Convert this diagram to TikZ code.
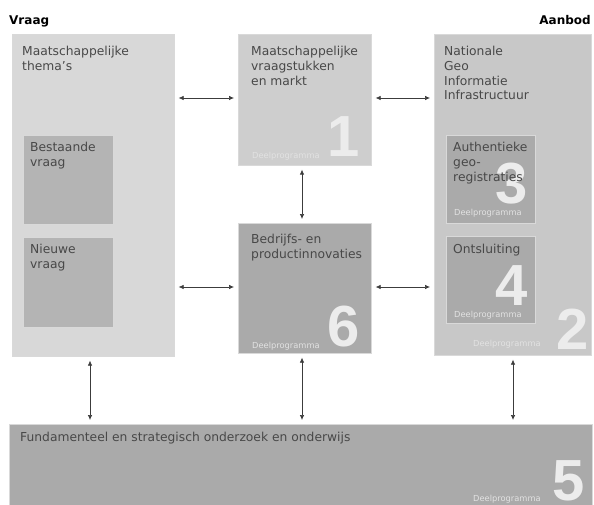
\documentclass[tikz,border=0pt]{standalone}
\usepackage{fontspec}
\setmainfont{DejaVu Sans}
\newfontfamily\numfont{Liberation Sans}
\usetikzlibrary{arrows.meta}
\definecolor{leftbg}{RGB}{216,216,216}
\definecolor{innerL}{RGB}{180,180,180}
\definecolor{boxone}{RGB}{206,206,206}
\definecolor{boxsix}{RGB}{170,170,170}
\definecolor{rightbg}{RGB}{200,200,200}
\definecolor{innerR}{RGB}{170,170,170}
\definecolor{bottombg}{RGB}{170,170,170}
\definecolor{txt}{RGB}{72,72,72}
\definecolor{numc}{RGB}{236,236,236}
\definecolor{smallc}{RGB}{226,226,226}
\definecolor{arrc}{RGB}{60,60,60}
\tikzset{
  panel/.style={draw=white!85!black, line width=0.6pt, anchor=north west, inner sep=0pt},
  lbl/.style={anchor=north west, inner sep=0pt, align=left, text=txt, font=\fontsize{12.3}{14.8}\selectfont},
  bignum/.style={anchor=base east, inner sep=0pt, text=numc, font=\numfont\fontsize{58}{58}\selectfont\bfseries},
  dp/.style={anchor=base west, inner sep=0pt, text=smallc, font=\fontsize{8.3}{9}\selectfont},
  head/.style={inner sep=0pt, font=\fontsize{12}{13}\selectfont\bfseries, text=black},
  link/.style={draw=arrc, line width=0.7pt, {Latex[length=5pt,width=4.5pt]}-{Latex[length=5pt,width=4.5pt]}, shorten <=4pt, shorten >=4pt}
}
\begin{document}
\begin{tikzpicture}[x=1pt,y=-1pt]
\useasboundingbox (0,0) rectangle (594,505);
\fill[white] (0,0) rectangle (594,505);
% headers
\node[head, anchor=base west] (vraag) at (9,25) {Vraag};
\node[head, anchor=base east] (aanbod) at (591,25) {Aanbod};
% big panels
\node[panel, fill=leftbg, minimum width=162pt, minimum height=322pt] (L) at (12,34) {};
\node[panel, fill=boxone, minimum width=133pt, minimum height=131pt] (B1) at (238,34) {};
\node[panel, fill=boxsix, minimum width=133pt, minimum height=130pt] (B6) at (238,223) {};
\node[panel, fill=rightbg, minimum width=157pt, minimum height=321pt] (R) at (434,34) {};
\node[panel, fill=bottombg, minimum width=583pt, minimum height=90pt] (B5) at (9,424) {};
% inner panels
\node[panel, fill=innerL, minimum width=90pt, minimum height=89pt] (BV) at (23,135) {};
\node[panel, fill=innerL, minimum width=90pt, minimum height=90pt] (NV) at (23,237) {};
\node[panel, fill=innerR, minimum width=89pt, minimum height=88pt] (B3) at (446,135) {};
\node[panel, fill=innerR, minimum width=89pt, minimum height=87pt] (B4) at (446,236) {};
% big numbers
\node[bignum] (n1) at (360,157) {1};
\node[bignum] (n6) at (360,346) {6};
\node[bignum] (n2) at (589,349) {2};
\node[bignum] (n3) at (528,204) {3};
\node[bignum] (n4) at (528,305) {4};
\node[bignum] (n5) at (585,500) {5};
% small labels
\node[dp] (d1) at (252,159) {Deelprogramma};
\node[dp] (d6) at (252,348) {Deelprogramma};
\node[dp] (d2) at (473,346) {Deelprogramma};
\node[dp] (d3) at (454,215) {Deelprogramma};
\node[dp] (d4) at (454,317) {Deelprogramma};
\node[dp] (d5) at (473,501) {Deelprogramma};
% texts
\node[lbl] (tL) at (22,46) {Maatschappelijke\\thema's};
\node[lbl] (tBV) at (30,142) {Bestaande\\vraag};
\node[lbl] (tNV) at (30,244) {Nieuwe\\vraag};
\node[lbl] (t1) at (251,46) {Maatschappelijke\\vraagstukken\\en markt};
\node[lbl] (t6) at (251,234) {Bedrijfs- en\\productinnovaties};
\node[lbl] (tR) at (444,46) {Nationale\\Geo\\Informatie\\Infrastructuur};
\node[lbl] (t3) at (453,142) {Authentieke\\geo-\\registraties};
\node[lbl] (t4) at (453,244) {Ontsluiting};
\node[lbl] (t5) at (20,432) {Fundamenteel en strategisch onderzoek en onderwijs};
% connectors
\draw[link] (L.east |- 0,98) -- (B1.west |- 0,98);
\draw[link] (B1.east |- 0,98) -- (R.west |- 0,98);
\draw[link] (L.east |- 0,287) -- (B6.west |- 0,287);
\draw[link] (B6.east |- 0,287) -- (R.west |- 0,287);
\draw[link] (B1.south -| 302,0) -- (B6.north -| 302,0);
\draw[link] (L.south -| 90,0) -- (B5.north -| 90,0);
\draw[link] (B6.south -| 302,0) -- (B5.north -| 302,0);
\draw[link] (R.south -| 513,0) -- (B5.north -| 513,0);
\end{tikzpicture}
\end{document}
